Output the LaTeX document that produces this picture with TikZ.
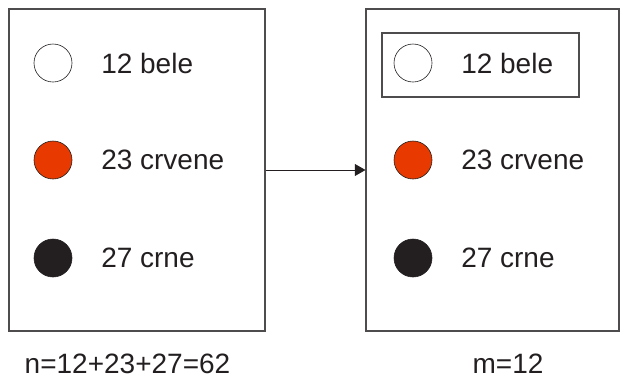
\documentclass[tikz,border=0pt]{standalone}
\usepackage{fontspec}
\setmainfont{Liberation Sans}
\usetikzlibrary{arrows.meta}
\definecolor{ink}{HTML}{231F20}
\definecolor{redball}{HTML}{E83A00}
\tikzset{
	box/.style = {draw = ink!80, line width = 0.8pt, inner sep = 0pt},
	ball/.style = {circle, draw = ink, line width = 0.45pt, minimum size = 28.5pt, inner sep = 0pt},
	label/.style = {anchor = west, inner sep = 0pt, text = ink, font = \fontsize{21}{25}\selectfont}
}

\begin{document}
\begin{tikzpicture}[x = 0.75pt, y = -0.75pt]
		\useasboundingbox (0, 0) rectangle (620, 379);
		%%%%%%%%%%%%%
		\node [box, minimum width = 192pt, minimum height = 241.5pt] (urn) at (137, 170) {};
		\node [box, minimum width = 189.75pt, minimum height = 241.5pt] (draw) at (492.5, 170) {};
		\node [box, minimum width = 147.75pt, minimum height = 48pt] (pick) at (480.5, 65) {};
		%%%%%%%%%%%%%
		\node [ball, fill = white] (w1) at (53, 63) {};
		\node [ball, fill = redball] (r1) at (53, 160) {};
		\node [ball, fill = ink] (b1) at (53, 258) {};
		\node [label] (tw1) at (101, 63) {12 bele};
		\node [label] (tr1) at (101, 160) {23 crvene};
		\node [label] (tb1) at (101, 258) {27 crne};
		%%%%%%%%%%%%%
		\node [ball, fill = white] (w2) at (413, 63) {};
		\node [ball, fill = redball] (r2) at (413, 160) {};
		\node [ball, fill = ink] (b2) at (413, 258) {};
		\node [label] (tw2) at (461, 63) {12 bele};
		\node [label] (tr2) at (461, 160) {23 crvene};
		\node [label] (tb2) at (461, 258) {27 crne};
		%%%%%%%%%%%%%
		\node [label, anchor = base] (n) at (127.5, 373) {n=12+23+27=62};
		\node [label, anchor = base] (m) at (508, 373) {m=12};
		%%%%%%%%%%%%%
		\draw [ink, line width = 0.6pt, -{Triangle[length = 8pt, width = 9pt]}] (urn.east) to (draw.west);
\end{tikzpicture}
\end{document}
